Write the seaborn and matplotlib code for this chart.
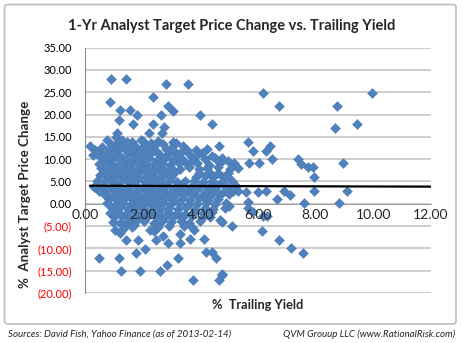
import matplotlib
matplotlib.use("Agg")
import matplotlib.pyplot as plt
from matplotlib.patches import FancyBboxPatch
import seaborn as sns
import pandas as pd

# (trailing yield %, 1-yr analyst target price change %)
upper_points = [
    (0.89, 27.9), (1.42, 27.9), (2.81, 26.9), (3.57, 26.9), (0.87, 22.9),
    (2.37, 23.9), (1.22, 21.0), (1.56, 21.0), (2.89, 21.9), (3.07, 20.9),
    (1.17, 18.9), (1.79, 19.9), (1.66, 17.9), (2.63, 19.9), (3.99, 19.9),
    (4.40, 17.9), (2.37, 17.9), (2.74, 17.2), (2.67, 15.9), (1.12, 15.9),
    (1.08, 14.9), (2.23, 15.9), (0.17, 13.0), (0.29, 10.9), (1.04, 13.0),
    (1.45, 13.9), (2.00, 14.1), (3.04, 13.9), (4.65, 13.0), (3.85, 12.1),
    (3.88, 10.9), (4.51, 10.2), (4.74, 10.2), (3.30, 11.3),
]

core_points = [
    (0.75, 14.2), (1.30, 14.4), (1.62, 13.8), (1.95, 14.3), (2.28, 13.7), (2.55, 14.1), (3.15, 13.6), (1.10, 13.7),
    (0.95, 13.1), (1.25, 12.8), (1.50, 13.2), (1.78, 12.7), (2.05, 13.0), (2.40, 12.9), (2.72, 13.3), (3.00, 12.6),
    (3.40, 13.0), (0.60, 12.7),
    (0.50, 11.8), (0.85, 12.2), (1.12, 11.9), (1.38, 12.3), (1.65, 12.0), (1.92, 11.7), (2.20, 12.1), (2.48, 11.8),
    (2.80, 12.2), (3.10, 11.9), (3.55, 12.0), (4.25, 12.3), (0.35, 12.0),
    (0.42, 11.2), (0.70, 10.9), (0.98, 11.1), (1.22, 10.7), (1.48, 11.3), (1.75, 10.8), (2.02, 11.0), (2.30, 11.4),
    (2.60, 10.9), (2.88, 11.2), (3.20, 10.8), (3.60, 11.1), (4.05, 11.3), (4.40, 10.8),
    (0.60, 10.2), (0.88, 9.8), (1.15, 10.3), (1.40, 9.9), (1.68, 10.1), (1.95, 9.7), (2.22, 10.2), (2.50, 9.9),
    (2.78, 10.3), (3.05, 9.8), (3.35, 10.1), (3.75, 9.9), (4.15, 10.0), (4.95, 9.6),
    (0.75, 9.1), (1.02, 8.8), (1.30, 9.2), (1.58, 8.9), (1.85, 9.3), (2.12, 8.7), (2.40, 9.0), (2.68, 9.2),
    (2.95, 8.8), (3.25, 9.1), (3.55, 8.9), (3.90, 9.2), (4.30, 8.8), (4.70, 9.1), (0.48, 8.9),
    (0.55, 8.0), (0.85, 8.2), (1.10, 7.8), (1.38, 8.1), (1.65, 7.7), (1.90, 8.3), (2.18, 7.9), (2.45, 8.2),
    (2.72, 7.8), (3.00, 8.1), (3.30, 7.9), (3.62, 8.3), (3.95, 7.8), (4.25, 8.0), (4.60, 8.2), (5.05, 7.9), (5.30, 8.0),
    (0.65, 7.1), (0.95, 6.9), (1.22, 7.2), (1.50, 6.8), (1.78, 7.0), (2.05, 7.3), (2.32, 6.9), (2.60, 7.1),
    (2.88, 6.8), (3.12, 7.2), (3.95, 6.9), (4.30, 7.2), (4.62, 6.8), (4.95, 7.0),
    (0.52, 6.4), (0.80, 6.0), (1.05, 6.2), (1.32, 5.8), (1.60, 6.3), (1.88, 5.9), (2.15, 6.1), (2.42, 5.7),
    (2.70, 6.2), (2.98, 5.9), (3.85, 6.0), (4.15, 6.3), (4.45, 5.9), (4.80, 6.1),
    (0.40, 5.0), (0.70, 5.2), (0.98, 4.8), (1.25, 5.1), (1.52, 4.9), (1.80, 5.3), (2.08, 4.8), (2.35, 5.1),
    (2.62, 4.9), (2.90, 5.2), (3.18, 4.8), (3.48, 5.0), (3.80, 5.2), (4.10, 4.9), (4.42, 5.1), (4.75, 4.8), (5.10, 5.0),
    (0.30, 3.8), (0.62, 4.1), (0.90, 3.7), (1.18, 4.0), (1.45, 3.6), (1.72, 4.2), (2.00, 3.8), (2.28, 4.1),
    (2.55, 3.7), (2.82, 4.0), (3.10, 3.6), (3.38, 4.1), (3.68, 3.8), (3.98, 4.0), (4.30, 3.7), (4.62, 4.2),
    (4.92, 3.8), (5.25, 3.9),
    (0.48, 2.9), (0.78, 3.1), (1.05, 2.8), (1.32, 3.2), (1.60, 2.7), (1.88, 3.0), (2.15, 2.8), (2.42, 3.2),
    (2.70, 2.9), (2.98, 2.7), (3.25, 3.1), (3.55, 2.8), (3.85, 3.0), (4.18, 2.7), (4.50, 3.1), (4.82, 2.9),
    (0.68, 2.0), (0.95, 1.8), (1.22, 2.2), (1.50, 1.9), (1.78, 2.1), (2.05, 1.7), (2.32, 2.0), (2.60, 2.2),
    (2.88, 1.8), (3.15, 2.1), (3.45, 1.9), (3.75, 2.2), (4.05, 1.8), (4.38, 2.0), (4.70, 1.9), (5.00, 2.1),
    (0.85, 1.0), (1.12, 0.8), (1.40, 1.2), (1.68, 0.9), (1.95, 1.1), (2.22, 0.7), (2.50, 1.0), (2.78, 1.2),
    (3.05, 0.8), (3.35, 1.1), (3.65, 0.9), (3.95, 1.2), (4.28, 0.8), (4.60, 1.0),
    (0.78, 0.1), (1.05, -0.2), (1.32, 0.2), (1.60, -0.1), (1.88, 0.0), (2.15, 0.3), (2.42, -0.2), (2.70, 0.1),
    (2.98, -0.1), (3.28, 0.2), (3.58, -0.2), (3.88, 0.0), (4.20, 0.2), (4.52, -0.1),
    (0.95, -1.0), (1.22, -0.8), (1.50, -1.2), (1.78, -0.9), (2.05, -1.1), (2.35, -0.8), (2.62, -1.2), (2.92, -0.9),
    (3.22, -1.1), (3.52, -0.8), (3.82, -1.2), (4.15, -0.9), (4.45, -1.1),
    (0.88, -2.0), (1.15, -1.8), (1.42, -2.2), (1.72, -1.9), (2.00, -2.1), (2.28, -1.8), (2.58, -2.2), (2.88, -1.9),
    (3.18, -2.0), (3.48, -2.2), (3.78, -1.8), (4.10, -2.1), (4.40, -1.9),
    (1.00, -3.0), (1.28, -2.8), (1.55, -3.2), (1.85, -2.9), (2.12, -3.1), (2.45, -2.8), (2.75, -3.2), (3.05, -2.9),
    (3.38, -3.1), (3.70, -2.8), (4.05, -3.1), (4.35, -2.9),
    (0.98, -4.0), (1.20, -4.2), (1.48, -3.8), (1.75, -4.1), (2.05, -3.9), (2.38, -4.2), (2.68, -3.8), (3.00, -4.1),
    (3.32, -3.9), (3.62, -4.2), (3.98, -3.8),
    (1.35, -5.0), (1.70, -4.8), (2.55, -5.1), (2.90, -4.9), (3.45, -5.0),
]

lower_points = [
    (0.50, -12.1), (1.19, -12.1), (1.24, -15.1), (1.91, -15.1), (1.77, -11.1),
    (2.08, -10.1), (1.85, -8.1), (1.42, -8.1), (2.45, -8.1), (2.60, -15.1),
    (2.84, -13.7), (3.24, -12.1), (3.74, -17.1), (4.75, -15.8), (4.66, -17.1),
    (4.20, -10.7), (4.40, -10.7), (4.55, -12.1), (4.14, -7.9), (3.65, -7.9),
    (3.30, -8.9), (3.30, -6.8), (2.89, -8.9), (2.72, -7.2), (1.04, -5.9),
    (1.22, -6.6), (1.33, -5.7), (1.62, -5.1), (2.26, -5.9), (2.40, -6.2),
    (3.78, -5.9), (3.72, -5.1), (4.69, -3.6), (4.75, -4.0), (5.09, -5.0),
]

high_yield_points = [
    (6.19, 24.9), (6.75, 21.9), (8.76, 21.9), (9.95, 24.9), (8.68, 17.1),
    (9.43, 17.9), (5.67, 13.9), (5.82, 11.9), (6.42, 13.0), (6.28, 11.9),
    (6.48, 10.0), (7.41, 10.0), (5.17, 9.1), (5.70, 9.1), (6.05, 9.1),
    (7.49, 8.9), (7.75, 8.2), (7.90, 8.2), (8.97, 9.1), (7.96, 6.1),
    (4.92, 6.2), (5.15, 2.9), (5.30, 2.9), (5.59, 2.7), (6.02, 2.7),
    (6.28, 2.9), (6.91, 2.9), (7.12, 2.0), (6.68, 1.0), (7.96, 2.9),
    (9.08, 2.9), (7.60, 0.1), (8.80, 0.1), (5.67, 0.5), (4.90, 0.1),
    (5.00, -0.6), (4.86, -1.0), (5.67, -1.0), (5.84, -1.8), (6.31, -2.7),
    (6.17, -2.7), (6.13, -6.0), (6.75, -8.1), (7.14, -10.0), (7.56, -11.1),
    (4.75, -16.0),
]

# flat trend line across the yield range
trend_yield = [0.17, 12.0]
trend_change = [4.05, 3.85]

y_ticks = [35, 30, 25, 20, 15, 10, 5, 0, -5, -10, -15, -20]
x_ticks = [0, 2, 4, 6, 8, 10, 12]

points = upper_points + core_points + lower_points + high_yield_points
df = pd.DataFrame(points, columns=["yield", "change"])

sns.set_style("white")
plt.rcParams["font.family"] = ["Lato", "DejaVu Sans"]

fig = plt.figure(figsize=(4.63, 3.43), dpi=100)
fig.patch.set_facecolor("white")

# chart frame
frame = FancyBboxPatch((4.5 / 463, 1 - 324 / 343), (456 - 4.5) / 463, (324 - 4.5) / 343,
                       boxstyle="round,pad=0,rounding_size=0.008", transform=fig.transFigure,
                       facecolor="none", edgecolor="#BDBDBD", linewidth=1.2, zorder=-1)
fig.patches.append(frame)

ax = fig.add_axes([85 / 463, 1 - 293 / 343, (430.7 - 85) / 463, (293 - 47.7) / 343])
ax.set_facecolor("none")

sns.scatterplot(data=df, x="yield", y="change", ax=ax, marker="D", s=26,
                color="#4F81BD", edgecolor="#4A7AB5", linewidth=0.3, zorder=2, legend=False)
sns.lineplot(x=trend_yield, y=trend_change, ax=ax, color="black", linewidth=1.6, zorder=4)

ax.set_xlim(0, 12)
ax.set_ylim(-20, 35)

for v in y_ticks:
    ax.axhline(v, color="#C0C0C0", linewidth=1.1, zorder=1)

ax.set_yticks(y_ticks)
ax.set_yticklabels([f"{v:.2f}" if v >= 0 else f"({-v:.2f})" for v in y_ticks], fontsize=8)
for lbl, v in zip(ax.get_yticklabels(), y_ticks):
    lbl.set_color("black" if v >= 0 else "#FF0000")
ax.set_xticks(x_ticks)
ax.set_xticklabels([f"{v:.2f}" for v in x_ticks], fontsize=8)

for side in ("top", "right"):
    ax.spines[side].set_visible(False)
ax.spines["bottom"].set_position(("data", 0))
ax.spines["bottom"].set_color("#A0A0A0")
ax.spines["bottom"].set_zorder(1.5)
ax.spines["left"].set_color("#8C8C8C")
ax.spines["left"].set_linewidth(0.8)
ax.tick_params(axis="y", direction="out", length=3.5, width=0.8, color="#8C8C8C", pad=6)
ax.tick_params(axis="x", direction="out", length=3, width=0.8, color="#A0A0A0", pad=1)
ax.xaxis.set_zorder(5)
ax.set_xlabel("")
ax.set_ylabel("")

fig.text(0.5, 1 - 26 / 343, "1-Yr Analyst Target Price Change vs. Trailing Yield",
         ha="center", va="center", fontsize=10.5, fontweight="bold")
fig.text(258 / 463, 1 - 305 / 343, "%  Trailing Yield", ha="center", va="center",
         fontsize=9.2, fontweight="bold")
fig.text(25 / 463, 1 - 194 / 343, "%  Analyst Target Price Change", ha="center", va="center",
         rotation=90, fontsize=9.6, fontweight="bold")
fig.text(8 / 463, 1 - 334 / 343, "Sources: David Fish, Yahoo Finance (as of 2013-02-14)",
         ha="left", va="center", fontsize=7, style="italic")
fig.text(455 / 463, 1 - 334 / 343, "QVM Grouup LLC (www.RationalRisk.com)",
         ha="right", va="center", fontsize=7, style="italic")

fig.savefig("out.png", dpi=100)
